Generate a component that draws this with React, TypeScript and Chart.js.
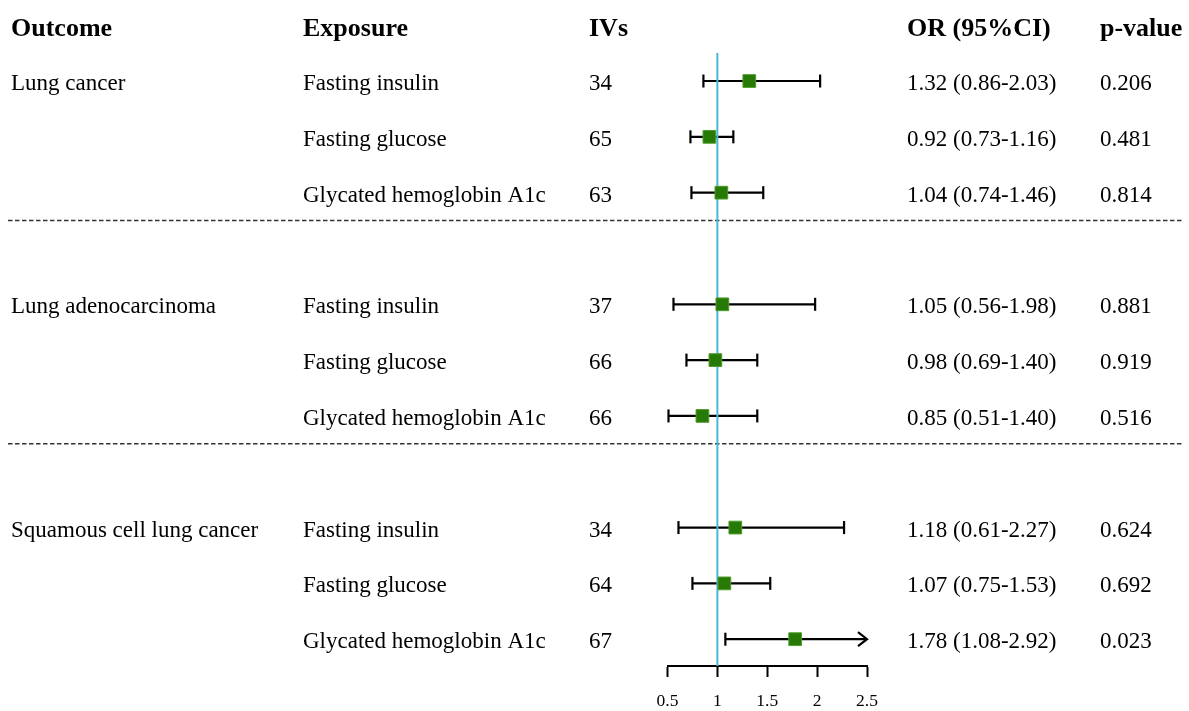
import React, { useEffect, useRef } from 'react';
import { Chart, registerables } from 'chart.js';

Chart.register(...registerables);

const headers = ['Outcome', 'Exposure', 'IVs', 'OR (95%CI)', 'p-value'];
const outcomes = ['Lung cancer', 'Lung adenocarcinoma', 'Squamous cell lung cancer'];
const outcomeRows = [1, 5, 9];
const exposures = [
  'Fasting insulin', 'Fasting glucose', 'Glycated hemoglobin A1c',
  'Fasting insulin', 'Fasting glucose', 'Glycated hemoglobin A1c',
  'Fasting insulin', 'Fasting glucose', 'Glycated hemoglobin A1c',
];
const ivs = [34, 65, 63, 37, 66, 66, 34, 64, 67];
const orValues = [1.32, 0.92, 1.04, 1.05, 0.98, 0.85, 1.18, 1.07, 1.78];
const lowerCI = [0.86, 0.73, 0.74, 0.56, 0.69, 0.51, 0.61, 0.75, 1.08];
const upperCI = [2.03, 1.16, 1.46, 1.98, 1.40, 1.40, 2.27, 1.53, 2.92];
const pValues = ['0.206', '0.481', '0.814', '0.881', '0.919', '0.516', '0.624', '0.692', '0.023'];
const rowIndex = [1, 2, 3, 5, 6, 7, 9, 10, 11];
const separatorRows = [3.5, 7.5];
const xMin = 0.5;
const xMax = 2.5;
const xStep = 0.5;
const nullValue = 1;

const fmt = (v: number) => v.toFixed(2);

const W = 1189;
const H = 711;
const colX = [11, 303, 589, 907, 1100];
const FONT = '"Liberation Serif", "Times New Roman", serif';

const forestPlugin = {
  id: 'forest',
  beforeDatasetsDraw(chart: any) {
    const { ctx, scales } = chart;
    const xs = scales.x;
    const ys = scales.y;
    ctx.save();
    // separators
    ctx.strokeStyle = '#333';
    ctx.lineWidth = 1.5;
    ctx.setLineDash([4.5, 2.5]);
    separatorRows.forEach((r) => {
      const y = ys.getPixelForValue(r);
      ctx.beginPath();
      ctx.moveTo(8, y);
      ctx.lineTo(1182, y);
      ctx.stroke();
    });
    ctx.setLineDash([]);
    // error bars
    ctx.strokeStyle = '#000';
    ctx.lineWidth = 2.2;
    rowIndex.forEach((r, i) => {
      const y = ys.getPixelForValue(r);
      const lo = Math.max(lowerCI[i], xMin);
      const hi = Math.min(upperCI[i], xMax);
      const x1 = xs.getPixelForValue(lo);
      const x2 = xs.getPixelForValue(hi);
      ctx.beginPath();
      ctx.moveTo(x1, y);
      ctx.lineTo(x2, y);
      ctx.stroke();
      ctx.beginPath();
      ctx.moveTo(x1, y - 6.5);
      ctx.lineTo(x1, y + 6.5);
      ctx.stroke();
      if (upperCI[i] > xMax) {
        ctx.beginPath();
        ctx.moveTo(x2 - 9, y - 7);
        ctx.lineTo(x2, y);
        ctx.lineTo(x2 - 9, y + 7);
        ctx.stroke();
      } else {
        ctx.beginPath();
        ctx.moveTo(x2, y - 6.5);
        ctx.lineTo(x2, y + 6.5);
        ctx.stroke();
      }
    });
    // null line
    const xn = xs.getPixelForValue(nullValue);
    ctx.strokeStyle = '#4db6d6';
    ctx.lineWidth = 2;
    ctx.beginPath();
    ctx.moveTo(xn, 53);
    ctx.lineTo(xn, chart.chartArea.bottom);
    ctx.stroke();
    ctx.restore();
  },
  afterDraw(chart: any) {
    const { ctx, scales } = chart;
    const ys = scales.y;
    ctx.save();
    ctx.fillStyle = '#000';
    ctx.textAlign = 'left';
    ctx.textBaseline = 'alphabetic';
    ctx.font = `bold 26px ${FONT}`;
    const hy = ys.getPixelForValue(0) + 11;
    headers.forEach((h, i) => ctx.fillText(h, colX[i], hy));
    ctx.font = `23px ${FONT}`;
    outcomes.forEach((o, i) => {
      ctx.fillText(o, colX[0], ys.getPixelForValue(outcomeRows[i]) + 9);
    });
    rowIndex.forEach((r, i) => {
      const y = ys.getPixelForValue(r) + 9;
      ctx.fillText(exposures[i], colX[1], y);
      ctx.fillText(String(ivs[i]), colX[2], y);
      ctx.fillText(`${fmt(orValues[i])} (${fmt(lowerCI[i])}-${fmt(upperCI[i])})`, colX[3], y);
      ctx.fillText(pValues[i], colX[4], y);
    });
    ctx.restore();
  },
};

export default function App() {
  const ref = useRef<HTMLCanvasElement | null>(null);
  useEffect(() => {
    if (!ref.current) return;
    const chart = new Chart(ref.current, {
      type: 'scatter',
      data: {
        datasets: [
          {
            data: rowIndex.map((r, i) => ({ x: orValues[i], y: r })),
            pointStyle: 'rect',
            pointRadius: 9,
            pointHoverRadius: 9,
            backgroundColor: '#277a05',
            borderColor: '#4f9c2e',
            borderWidth: 1,
          },
        ],
      },
      options: {
        animation: false,
        responsive: true,
        maintainAspectRatio: false,
        events: [],
        layout: { padding: { left: 667.5, right: W - 867, top: 25.2, bottom: 0 } },
        plugins: { legend: { display: false }, tooltip: { enabled: false } },
        scales: {
          x: {
            type: 'linear',
            min: xMin,
            max: xMax,
            afterFit: (s: any) => {
              s.height = 45;
            },
            ticks: {
              stepSize: xStep,
              color: '#000',
              font: { family: FONT, size: 17.5 },
              padding: 14,
              callback: (v: any) => String(v),
            },
            grid: {
              display: true,
              drawOnChartArea: false,
              drawTicks: true,
              tickLength: 11,
              tickColor: '#000',
              tickWidth: 2,
            },
            border: { display: true, color: '#000', width: 2 },
          },
          y: {
            type: 'linear',
            display: false,
            reverse: true,
            min: 0,
            max: 11.48,
          },
        },
      },
      plugins: [forestPlugin],
    });
    return () => chart.destroy();
  }, []);
  return (
    <div style={{ position: 'fixed', left: 0, top: 0, width: W, height: H, background: '#fff' }}>
      <canvas ref={ref} />
    </div>
  );
}
